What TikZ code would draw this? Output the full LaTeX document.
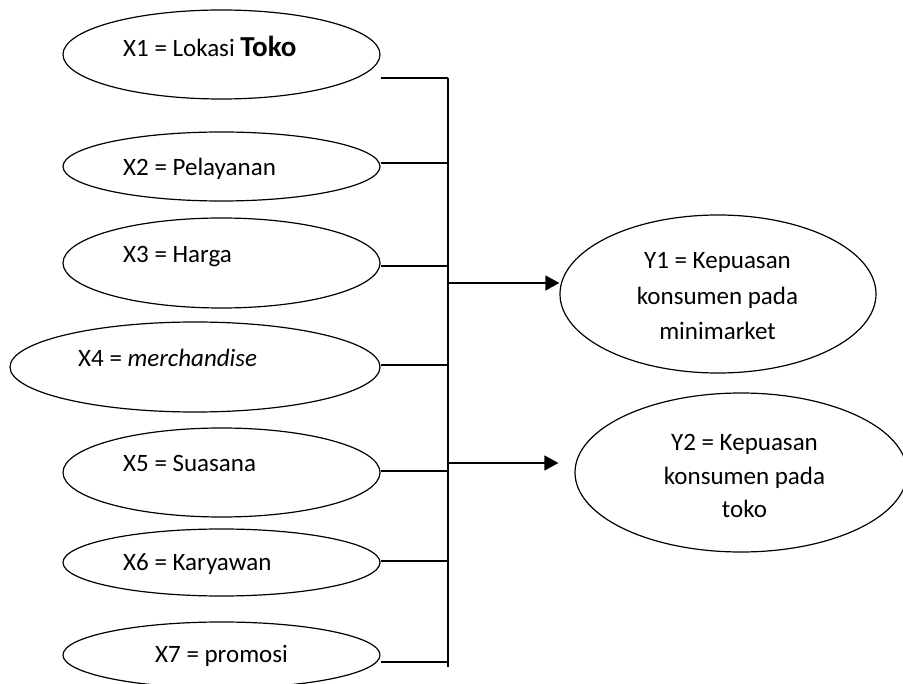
\documentclass[tikz,border=0pt]{standalone}
\usepackage{fontspec}
\setmainfont{Carlito}
\usetikzlibrary{shapes.geometric,arrows.meta,calc}
\tikzset{
  ell/.style={draw, ellipse, inner sep=0pt, line width=1.2pt},
  txt/.style={anchor=base west, inner sep=0pt, font=\fontsize{25}{35}\selectfont},
  ytxt/.style={anchor=base, inner sep=0pt, font=\fontsize{25}{35}\selectfont},
  wire/.style={line width=1.4pt},
  arr/.style={line width=1.4pt, -{Triangle[length=14pt,width=15pt]}}
}
\begin{document}
\begin{tikzpicture}[x=1pt,y=-1pt]
\useasboundingbox (0,0) rectangle (903,684);
% left ellipses
\node[ell, minimum width=317pt, minimum height=89pt] (x1) at (221.5,54.5) {};
\node[ell, minimum width=317pt, minimum height=69pt] (x2) at (221.5,166.5) {};
\node[ell, minimum width=317pt, minimum height=90pt] (x3) at (221.5,263) {};
\node[ell, minimum width=370pt, minimum height=90pt] (x4) at (195,367) {};
\node[ell, minimum width=317pt, minimum height=89pt] (x5) at (221.5,472.5) {};
\node[ell, minimum width=317pt, minimum height=67pt] (x6) at (221.5,562.5) {};
\node[ell, minimum width=317pt, minimum height=66pt] (x7) at (221.5,655) {};
% texts
\node[txt] (t1) at (123,57) {X1 = Lokasi {\fontsize{29}{35}\selectfont\bfseries Toko}};
\node[txt] (t2) at (123,176) {X2 = Pelayanan};
\node[txt] (t3) at (123,263) {X3 = Harga};
\node[txt] (t4) at (78,367) {X4 = \textit{merchandise}};
\node[txt] (t5) at (123,472) {X5 = Suasana};
\node[txt] (t6) at (123,570) {X6 = Karyawan};
\node[txt] (t7) at (155,662) {X7 = promosi};
% right ellipses
\node[ell, minimum width=316pt, minimum height=158pt] (y1) at (718,294) {};
\node[ell, minimum width=332pt, minimum height=159pt] (y2) at (741,472.5) {};
\node[ytxt] (y1a) at (717.5,269) {Y1 = Kepuasan};
\node[ytxt] (y1b) at (717.5,304.5) {konsumen pada};
\node[ytxt] (y1c) at (717.5,340) {minimarket};
\node[ytxt] (y2a) at (744.5,451) {Y2 = Kepuasan};
\node[ytxt] (y2b) at (744.5,485) {konsumen pada};
\node[ytxt] (y2c) at (744.5,518) {toko};
% bus
\coordinate (bt) at (448,78);
\coordinate (bb) at (448,667);
\draw[wire] (bt) -- (bb);
\draw[wire] ([yshift=-23.5pt]x1.east) -- (bt);
\draw[wire] ([yshift=3.5pt]x2.east) coordinate (p2) -- (p2 -| bt);
\draw[wire] ([yshift=-3pt]x3.east) coordinate (p3) -- (p3 -| bt);
\draw[wire] ([yshift=2pt]x4.east) coordinate (p4) -- (p4 -| bt);
\draw[wire] ([yshift=1.5pt]x5.east) coordinate (p5) -- (p5 -| bt);
\draw[wire] ([yshift=1.5pt]x6.east) coordinate (p6) -- (p6 -| bt);
\draw[wire] ([yshift=-7pt]x7.east) coordinate (p7) -- (p7 -| bt);
% arrows
\coordinate (a1) at (448,283);
\coordinate (a2) at (448,463);
\draw[arr] (a1) -- (a1 -| y1.west);
\draw[arr] (a2) -- ($(a2 -| y2.west)+(-16,0)$);
\end{tikzpicture}
\end{document}
